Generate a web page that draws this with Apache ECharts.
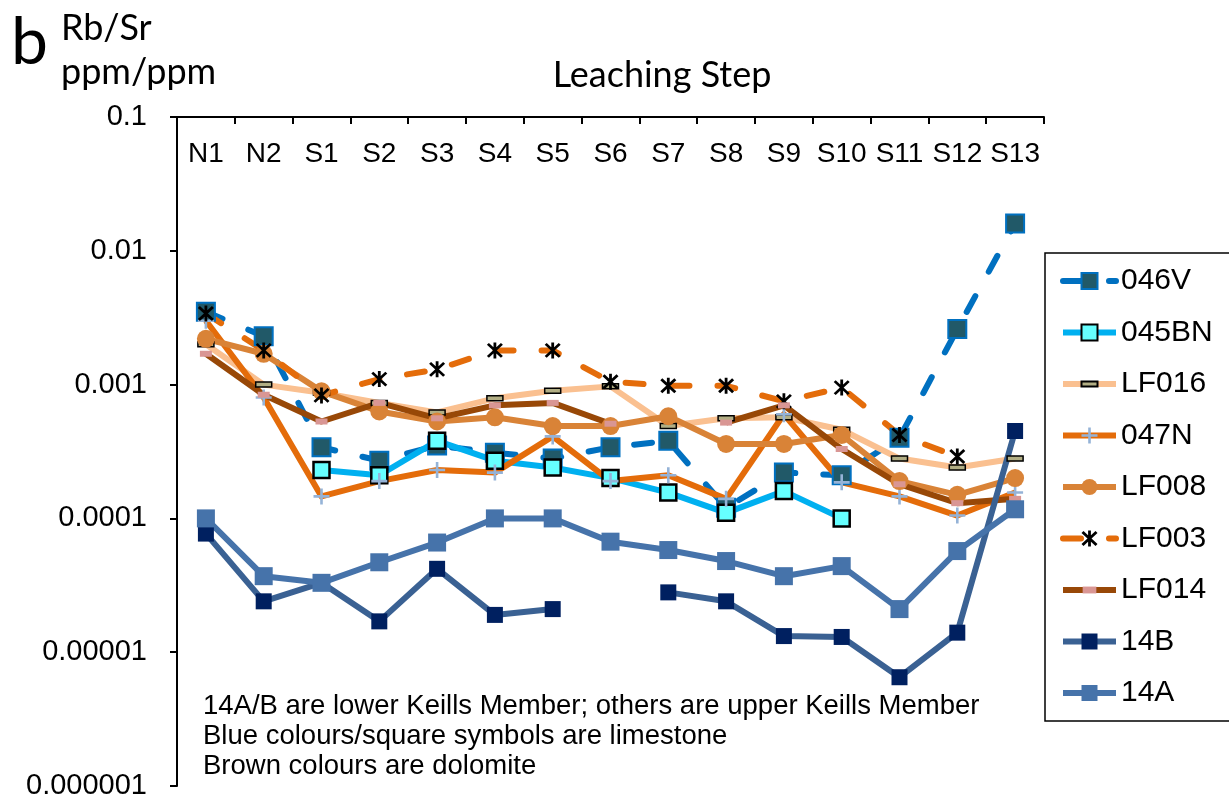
<!DOCTYPE html>
<html>
<head>
<meta charset="utf-8">
<title>Rb/Sr by leaching step</title>
<script src="https://cdn.jsdelivr.net/npm/echarts@6/dist/echarts.min.js"></script>
<style>
  html, body { margin: 0; padding: 0; background: #fff; }
  #chart { width: 1229px; height: 803px; }
</style>
</head>
<body>
<div id="chart"></div>
<script>
// Leaching steps (category axis along the top)
const steps = ['N1', 'N2', 'S1', 'S2', 'S3', 'S4', 'S5', 'S6', 'S7', 'S8', 'S9', 'S10', 'S11', 'S12', 'S13'];

// Rb/Sr ratios (ppm/ppm) per step; null = no measurement
const s046V  = [0.0035, 0.0023, 0.00034, 0.00027, 0.00035, 0.00031, 0.00028, 0.00034, 0.00038, 0.00012, 0.00022, 0.00021, 0.0004, 0.0026, 0.016];
const s045BN = [null, null, 0.00023, 0.00021, 0.00038, 0.00027, 0.00024, 0.0002, 0.000156, 0.00011, 0.00016, 0.0001, null, null, null];
const sLF016 = [0.002, 0.001, 0.00087, 0.00073, 0.00062, 0.00079, 0.0009, 0.00097, 0.00049, 0.00056, 0.00057, 0.00046, 0.00028, 0.00024, 0.00028];
const s047N  = [0.003, 0.0008, 0.000146, 0.00019, 0.00023, 0.00022, 0.00041, 0.00019, 0.00021, 0.00014, 0.0006, 0.000186, 0.000146, 0.000105, 0.000156];
const sLF008 = [0.0022, 0.0017, 0.00089, 0.00063, 0.00053, 0.00057, 0.00049, 0.00049, 0.00058, 0.00036, 0.00036, 0.00042, 0.00019, 0.00015, 0.0002];
const sLF003 = [0.0034, 0.0018, 0.00083, 0.0011, 0.0013, 0.0018, 0.0018, 0.00105, 0.00098, 0.00098, 0.00075, 0.00095, 0.00042, 0.00029, null];
const sLF014 = [0.0017, 0.00084, 0.00053, 0.00073, 0.00056, 0.0007, 0.00073, 0.00051, null, 0.00052, 0.0007, 0.00033, 0.00018, 0.00013, 0.00014];
const s14B   = [0.000077, 0.000024, 0.000033, 0.000017, 0.000042, 0.000019, 0.000021, null, 0.000028, 0.000024, 0.0000132, 0.000013, 0.0000065, 0.000014, 0.00045];
const s14A   = [0.0001, 0.000037, 0.000033, 0.000047, 0.000066, 0.0001, 0.0001, 0.000067, 0.000058, 0.000048, 0.000037, 0.000044, 0.000021, 0.000057, 0.000117];

// Log-axis tick labels, one per decade from 1e-6 to 1e-1
const yTickLabels = ['0.000001', '0.00001', '0.0001', '0.001', '0.01', '0.1'];

const notes = [
  '14A/B are lower Keills Member; others are upper Keills Member',
  'Blue colours/square symbols are limestone',
  'Brown colours are dolomite'
];

// Marker shapes
const PLUS = 'path://M6.7,0H9.3V6.7H16V9.3H9.3V16H6.7V9.3H0V6.7H6.7Z';
const ASTERISK = 'path://M6.7,0L9.3,0L9.3,16L6.7,16Z' +
  'M2.42,0.58L15.42,13.58L13.58,15.42L0.58,2.42Z' +
  'M15.42,2.42L2.42,15.42L0.58,13.58L13.58,0.58Z';
// thin bars padded to a square box so they keep their shape in the legend too
const DASH_BAR = 'path://M0,0L0,0M0,5.5H16V10.5H0ZM16,16L16,16';
const PINK_BAR = 'path://M0,0L0,0M1,4H13V10H1ZM14,14L14,14';

const sansArial = 'Liberation Sans';
const sansCalibri = 'Lato';

function lineSeries(name, data, lineColor, symbol, symbolSize, itemStyle, dashed) {
  return {
    name: name,
    type: 'line',
    data: data,
    connectNulls: false,
    symbol: symbol,
    symbolSize: symbolSize,
    showAllSymbol: true,
    lineStyle: {
      color: lineColor,
      width: 6,
      type: dashed ? [18, 28] : 'solid',
      cap: dashed ? 'round' : 'butt',
      join: 'round'
    },
    itemStyle: itemStyle,
    emphasis: { disabled: true },
    z: 2
  };
}

const series = [
  lineSeries('046V', s046V, '#0070C0', 'rect', 18, { color: '#215968', borderColor: '#0070C0', borderWidth: 2 }, true),
  lineSeries('045BN', s045BN, '#00B0F0', 'rect', 16, { color: '#66FFFF', borderColor: '#000000', borderWidth: 2.5 }, false),
  lineSeries('LF016', sLF016, '#FAC090', DASH_BAR, 16, { color: '#B2AE84', borderColor: '#000000', borderWidth: 1.5 }, false),
  lineSeries('047N', s047N, '#E46C0A', PLUS, 16, { color: '#95B3D7' }, false),
  lineSeries('LF008', sLF008, '#D98337', 'circle', 18, { color: '#D98337' }, false),
  lineSeries('LF003', sLF003, '#E46C0A', ASTERISK, 16, { color: '#000000' }, true),
  lineSeries('LF014', sLF014, '#984807', PINK_BAR, 14, { color: '#D99694' }, false),
  lineSeries('14B', s14B, '#3A6193', 'rect', 16, { color: '#002060' }, false),
  lineSeries('14A', s14A, '#4673AA', 'rect', 18, { color: '#4673AA' }, false)
];

const chart = echarts.init(document.getElementById('chart'), null, { renderer: 'canvas' });

chart.setOption({
  animation: false,
  backgroundColor: '#ffffff',
  grid: { left: 177, right: 185, top: 117, bottom: 17 },
  xAxis: {
    type: 'category',
    data: steps,
    position: 'top',
    boundaryGap: true,
    axisLine: { show: true, onZero: false, lineStyle: { color: '#000', width: 2 } },
    axisTick: { show: true, inside: true, length: 7, interval: 0, alignWithLabel: false, lineStyle: { color: '#000', width: 2 } },
    axisLabel: { inside: true, margin: 23, interval: 0, color: '#000', fontFamily: sansArial, fontSize: 28 },
    splitLine: { show: false }
  },
  yAxis: {
    type: 'log',
    logBase: 10,
    min: 0.000001,
    max: 0.1,
    axisLine: { show: true, lineStyle: { color: '#000', width: 2 } },
    axisTick: { show: true, length: 7, lineStyle: { color: '#000', width: 2 } },
    axisLabel: {
      color: '#000', fontFamily: sansArial, fontSize: 29, margin: 30,
      formatter: function (v) {
        const e = Math.round(Math.log10(v));
        return yTickLabels[e + 6];
      }
    },
    splitLine: { show: false },
    minorTick: { show: false }
  },
  legend: {
    orient: 'vertical',
    left: 1045,
    top: 253,
    itemWidth: 53,
    itemHeight: 20,
    itemGap: 21.5,
    padding: [13, 18, 13, 15],
    borderColor: '#000',
    borderWidth: 1.5,
    backgroundColor: '#fff',
    selectedMode: false,
    lineStyle: { width: 6 },
    textStyle: { fontFamily: sansArial, fontSize: 30, color: '#000' },
    data: series.map(s => s.name)
  },
  series: series,
  graphic: [
    { type: 'text', x: 11, y: 43, style: { text: 'b', fontFamily: sansCalibri, fontSize: 66, fill: '#000', align: 'left', verticalAlign: 'middle' } },
    { type: 'text', x: 61, y: 28, style: { text: 'Rb/Sr', fontFamily: sansCalibri, fontSize: 36, fill: '#000', align: 'left', verticalAlign: 'middle' } },
    { type: 'text', x: 61, y: 72, style: { text: 'ppm/ppm', fontFamily: sansCalibri, fontSize: 36, fill: '#000', align: 'left', verticalAlign: 'middle' } },
    { type: 'text', x: 662, y: 75, style: { text: 'Leaching Step', fontFamily: sansCalibri, fontSize: 36, fill: '#000', align: 'center', verticalAlign: 'middle' } },
    { type: 'text', x: 203, y: 706, style: { text: notes[0], fontFamily: sansArial, fontSize: 27.5, fill: '#000', align: 'left', verticalAlign: 'middle' } },
    { type: 'text', x: 203, y: 736, style: { text: notes[1], fontFamily: sansArial, fontSize: 27.5, fill: '#000', align: 'left', verticalAlign: 'middle' } },
    { type: 'text', x: 203, y: 766, style: { text: notes[2], fontFamily: sansArial, fontSize: 27.5, fill: '#000', align: 'left', verticalAlign: 'middle' } }
  ]
});
</script>
</body>
</html>
